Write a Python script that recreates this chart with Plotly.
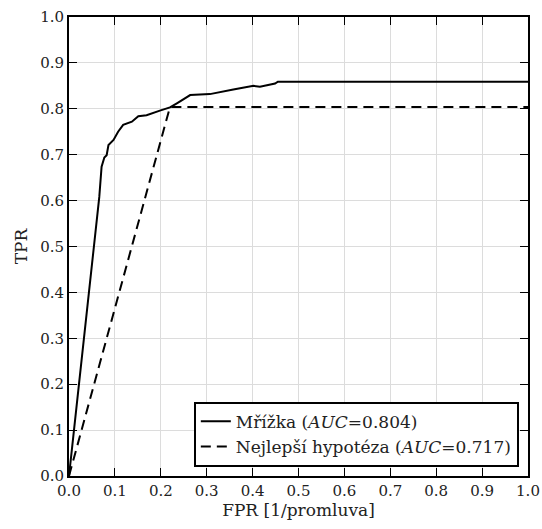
import plotly.graph_objects as go

# Mřížka ROC curve
grid_fpr = [0.0, 0.049, 0.066, 0.071, 0.077, 0.082, 0.086, 0.097, 0.107, 0.118, 0.137,
            0.151, 0.169, 0.198, 0.220, 0.235, 0.249, 0.264, 0.307, 0.329, 0.358,
            0.402, 0.416, 0.449, 0.455, 1.0]
grid_tpr = [0.0, 0.449, 0.608, 0.674, 0.694, 0.699, 0.721, 0.732, 0.750, 0.765, 0.772,
            0.784, 0.786, 0.796, 0.803, 0.812, 0.821, 0.830, 0.832, 0.837, 0.842,
            0.850, 0.848, 0.855, 0.859, 0.859]

# Nejlepší hypotéza ROC curve
best_fpr = [0.0, 0.22, 1.0]
best_tpr = [0.0, 0.804, 0.804]

ticks = [round(i * 0.1, 1) for i in range(11)]
tick_text = ["%.1f" % t for t in ticks]

FONT = "DejaVu Serif"

fig = go.Figure()
fig.add_trace(go.Scatter(x=grid_fpr, y=grid_tpr, mode="lines",
                         line=dict(color="black", width=2),
                         name="Mřížka (<i>AUC</i>=0.804)"))
fig.add_trace(go.Scatter(x=best_fpr, y=best_tpr, mode="lines",
                         line=dict(color="black", width=2, dash="10px,6px"),
                         name="Nejlepší hypotéza (<i>AUC</i>=0.717)"))

axis_common = dict(range=[0, 1], tickvals=ticks, ticktext=tick_text,
                   showgrid=True, gridcolor="#dcdcdc", gridwidth=1,
                   showline=True, linecolor="black", linewidth=2, mirror="ticks",
                   ticks="inside", ticklen=8, tickcolor="black", tickwidth=1,
                   zeroline=False, automargin=False,
                   tickfont=dict(family=FONT, size=15, color="#222"),
                   title_font=dict(family=FONT, size=17, color="#222"))

fig.update_layout(
    width=542, height=529,
    margin=dict(l=69, r=14, t=17, b=53),
    plot_bgcolor="white", paper_bgcolor="white",
    xaxis=dict(axis_common, title=dict(text="FPR [1/promluva]", standoff=2)),
    yaxis=dict(axis_common, title=dict(text="TPR", standoff=8)),
    legend=dict(x=0.98, y=0.02, xanchor="right", yanchor="bottom",
                bgcolor="white", bordercolor="black", borderwidth=2,
                font=dict(family=FONT, size=17, color="#222")),
    showlegend=True,
)

fig.write_html("out.html", config={"displayModeBar": False},
               post_script="document.body.style.margin='0px';")
